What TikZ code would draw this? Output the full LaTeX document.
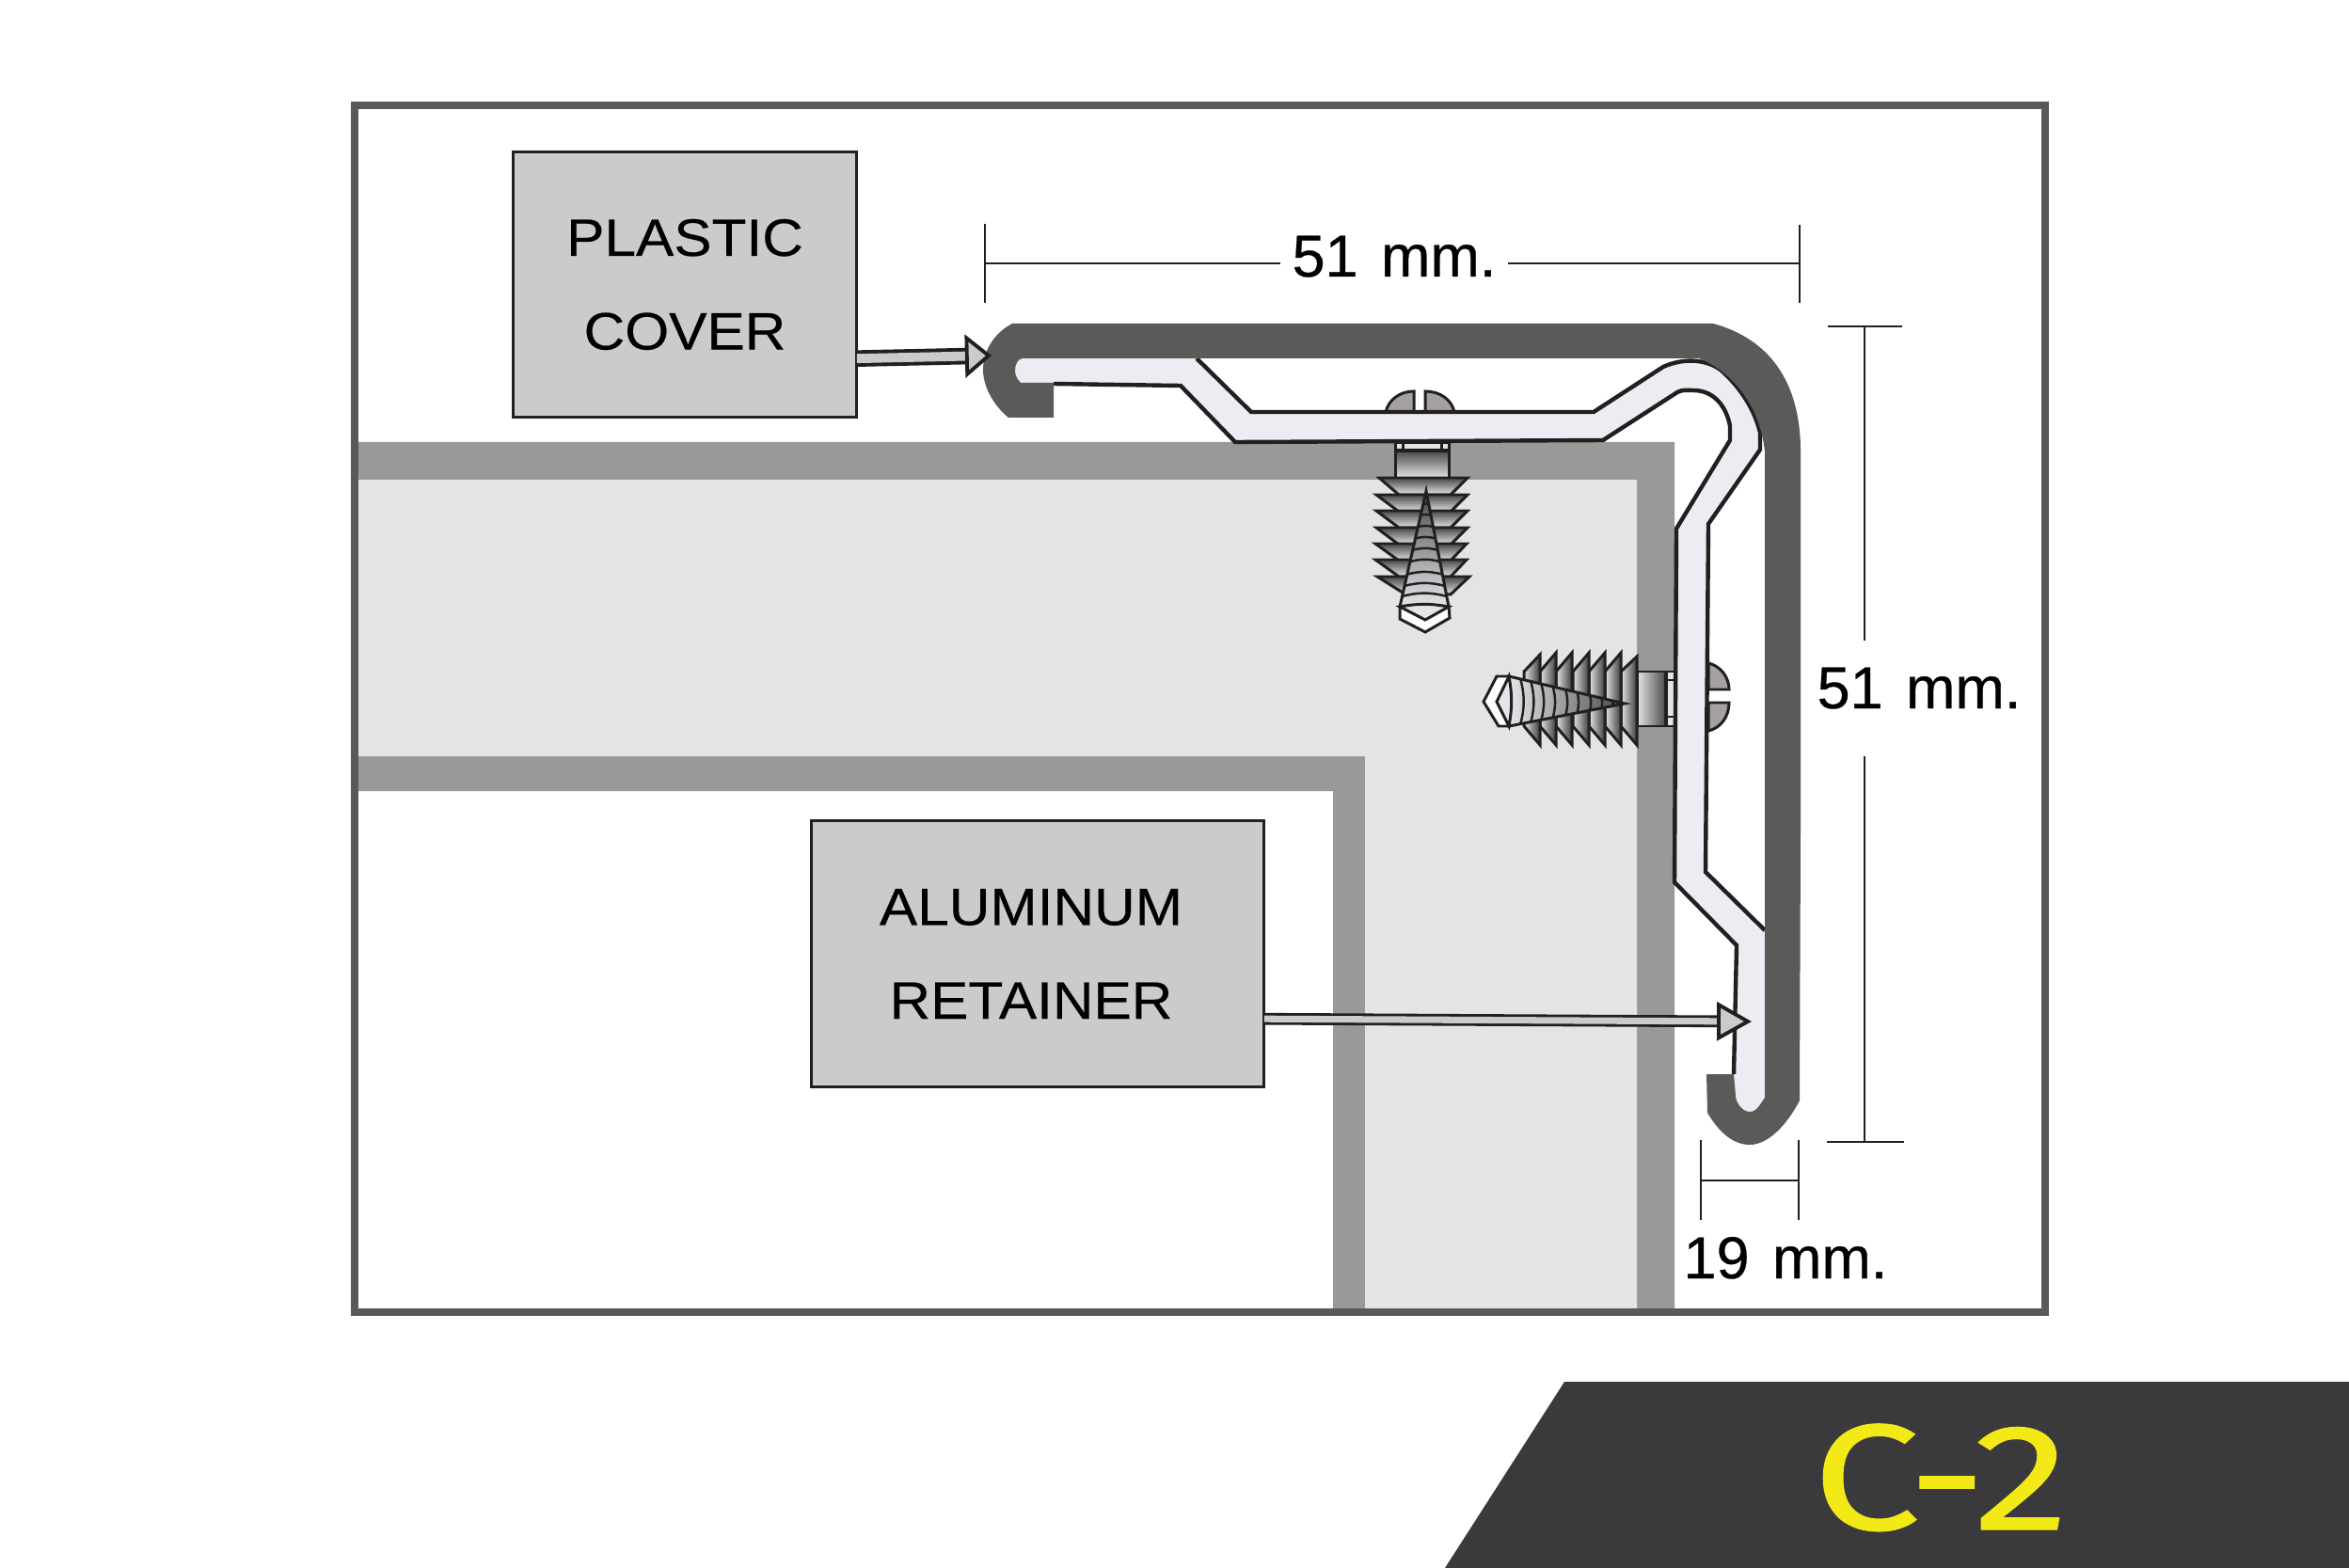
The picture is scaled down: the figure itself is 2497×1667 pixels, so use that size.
\documentclass[tikz,border=0pt]{standalone}
\usepackage{fontspec}
\setmainfont{Liberation Sans}
\newfontfamily\labfont[FakeStretch=1.08,FakeBold=.35]{Liberation Sans}
\newfontfamily\dimfont[FakeBold=.45,WordSpace=1.4]{Liberation Sans}
\newfontfamily\badgefont[FakeBold=.8,FakeStretch=1.27]{Fira Sans}
\usetikzlibrary{arrows.meta,calc}
\definecolor{ink}{HTML}{231F20}
\definecolor{framegray}{HTML}{58595B}
\definecolor{covergray}{HTML}{5A5A58}
\definecolor{bandgray}{HTML}{999999}
\definecolor{walllight}{HTML}{E4E4E4}
\definecolor{railfill}{HTML}{ECECF2}
\definecolor{boxfill}{HTML}{CCCBCB}
\definecolor{headfill}{HTML}{A5A1A2}
\definecolor{badgefill}{HTML}{3A3A3C}
\definecolor{badgetext}{HTML}{F2E916}
\definecolor{threaddark}{HTML}{48484A}
\definecolor{threadlight}{HTML}{E6E6EA}
\tikzset{
  railline/.style={draw=ink,line width=1.25pt,line join=miter},
  screwline/.style={draw=ink,line width=.85pt,line join=miter},
  dimline/.style={draw=ink,line width=.6pt},
  labelbox/.style={draw=ink,line width=.9pt,fill=boxfill,inner sep=0pt,outer sep=0pt,align=center,
    font=\labfont\fontsize{15.9}{28.3}\selectfont},
  dimtext/.style={anchor=base,inner ysep=0pt,inner xsep=3.5pt,font=\dimfont\fontsize{17.9}{20}\selectfont,text=black},
  calloutA/.style={draw=ink,line width=1.1pt,double=boxfill,double distance=2.8pt,
    -{Triangle[open,fill=boxfill,color=ink,length=8pt,width=13pt,line width=1.1pt]}},
  calloutB/.style={draw=ink,line width=.8pt,double=boxfill,double distance=2pt,
    -{Triangle[open,fill=boxfill,color=ink,length=10.5pt,width=11.6pt,line width=1.1pt]}}
}
\begin{document}
\begin{tikzpicture}[x=.01cm,y=-.01cm]
\useasboundingbox (0,0) rectangle (2497,1667);
\fill[white] (0,0) rectangle (2497,1667);

% wall band and wall core
\fill[bandgray] (381,470) -- (1780,470) -- (1780,1391) -- (1417,1391) -- (1417,841) -- (381,841) -- cycle;
\fill[walllight] (381,510) -- (1740,510) -- (1740,1391) -- (1451,1391) -- (1451,804) -- (381,804) -- cycle;

% vertical screw: head
\filldraw[screwline,fill=headfill] (1473,438) .. controls (1476,425) and (1488,416) .. (1503,416) -- (1503,438) -- cycle;
\filldraw[screwline,fill=headfill] (1546,438) .. controls (1543,425) and (1531,416) .. (1515,416) -- (1515,438) -- cycle;
% shank
\filldraw[screwline,top color=threaddark,bottom color=threadlight] (1483,479) rectangle (1540,508);
\filldraw[screwline,fill=walllight] (1483,471) rectangle (1491,479);
\filldraw[screwline,fill=walllight] (1491,471) rectangle (1532,479);
\filldraw[screwline,fill=walllight] (1532,471) rectangle (1540,479);
\draw[ink,line width=1.3pt] (1483,479) -- (1540,479);
% teeth
\foreach \yt/\xl/\xr in {508/1466/1560,526/1463/1560,543/1463/1560,561/1463/1560,578/1462/1559,595/1462/1559}{
  \filldraw[screwline,top color=threaddark,bottom color=threadlight]
    (\xl,\yt) -- (\xr,\yt) -- (1542,\yt+18) -- (1487,\yt+18) -- cycle;
}
\filldraw[screwline,top color=threaddark,bottom color=threadlight]
    (1464,613) -- (1562,613) -- (1542,632) -- (1491,630) -- cycle;
% cone
\coordinate (vA) at (1516,522);
\coordinate (vL) at (1488,645);
\coordinate (vR) at (1540,645);
\filldraw[screwline,top color=threaddark,bottom color=threadlight] (vA) -- (vR) -- (vL) -- cycle;
\foreach \t in {.11,.21,.31,.41,.51,.61,.72,.82,.91}{
  \draw[ink,line width=.7pt] ($(vA)!\t!(vL)$) to[bend left=14] ($(vA)!\t!(vR)$);
}
\filldraw[screwline,fill=white] (1488,645) -- (1488,658) -- (1515,672) -- (1541,657) -- (1540,645) -- cycle;
\filldraw[screwline,fill=threadlight] (1488,645) -- (1515,659) -- (1540,645) to[bend right=10] cycle;

% horizontal screw: head
\filldraw[screwline,fill=headfill] (1816,705) .. controls (1829,708) and (1838,720) .. (1838,733) -- (1816,733) -- cycle;
\filldraw[screwline,fill=headfill] (1816,777) .. controls (1829,774) and (1838,762) .. (1838,747) -- (1816,747) -- cycle;
% shank
\filldraw[screwline,left color=threadlight,right color=threaddark] (1740,714) rectangle (1771,772);
\filldraw[screwline,fill=walllight] (1771,714) rectangle (1780,723);
\filldraw[screwline,fill=walllight] (1771,723) rectangle (1780,762);
\filldraw[screwline,fill=walllight] (1771,762) rectangle (1780,772);
\draw[ink,line width=1.3pt] (1771,714) -- (1771,772);
% teeth
\foreach \xr/\yt in {1740/698,1723/694,1706/694,1689/694,1671/694,1654/694,1637/696}{
  \filldraw[screwline,left color=threadlight,right color=threaddark!85!black]
    (\xr,\yt) -- (\xr-17,714) -- (\xr-17,772) -- (\xr,792) -- cycle;
}
% cone
\coordinate (hA) at (1727,748);
\coordinate (hT) at (1604,719);
\coordinate (hB) at (1604,772);
\filldraw[screwline,left color=threadlight,right color=threaddark] (hA) -- (hT) -- (hB) -- cycle;
\foreach \t in {.1,.2,.3,.41,.51,.62,.72,.81,.9}{
  \draw[ink,line width=.7pt] ($(hA)!\t!(hT)$) to[bend left=14] ($(hA)!\t!(hB)$);
}
\filldraw[screwline,fill=white] (1604,719) -- (1591,719) -- (1577,746) -- (1593,772) -- (1604,772) -- cycle;
\filldraw[screwline,fill=threadlight] (1604,719) -- (1591,746) -- (1604,772) to[bend right=10] cycle;

% aluminum retainer
\fill[railfill] (1075,393) -- (1087,378) -- (1272,378) -- (1272,381) -- (1330,438) -- (1694,438) -- (1768,390)
  .. controls (1790,380) and (1815,382) .. (1830,394) .. controls (1850,412) and (1865,435) .. (1871,460)
  -- (1871,478) -- (1816,557) -- (1813,927) -- (1876,989) -- (1880,989) -- (1880,1170) -- (1860,1190)
  -- (1843,1170) -- (1843,1142) -- (1846,1005) -- (1780,938) -- (1782,562) -- (1839,468) -- (1839,453)
  .. controls (1835,432) and (1822,415) .. (1800,415) .. controls (1794,415) and (1788,414) .. (1783,417)
  -- (1704,468) -- (1313,470) -- (1255,410) -- (1120,408) -- (1085,410) -- cycle;
\draw[railline] (1272,381) -- (1330,438) -- (1694,438) -- (1768,390)
  .. controls (1790,380) and (1815,382) .. (1830,394) .. controls (1850,412) and (1865,435) .. (1871,460)
  -- (1871,478) -- (1816,557) -- (1813,927) -- (1876,989);
\draw[railline] (1120,408) -- (1255,410) -- (1313,470) -- (1704,468) -- (1783,417)
  .. controls (1788,414) and (1794,415) .. (1800,415) .. controls (1822,415) and (1835,432) .. (1839,453)
  -- (1839,468) -- (1782,562) -- (1780,938) -- (1846,1005) -- (1843,1142);

% plastic cover
\fill[covergray] (1076,344) -- (1821,344) .. controls (1880,360) and (1914,405) .. (1914,480)
  -- (1914,880) -- (1913,1170) .. controls (1900,1195) and (1880,1217) .. (1860,1217)
  .. controls (1840,1217) and (1825,1200) .. (1815,1183) -- (1814,1142) -- (1843,1142) -- (1845,1165)
  .. controls (1845,1172) and (1852,1182) .. (1860,1182) .. controls (1868,1182) and (1872,1172) .. (1876,1167)
  -- (1876,480) .. controls (1870,425) and (1835,392) .. (1806,381) -- (1087,381)
  .. controls (1082,381) and (1079,388) .. (1079,393) .. controls (1079,398) and (1080,402) .. (1085,407)
  -- (1120,407) -- (1120,444) -- (1072,444) .. controls (1055,430) and (1045,410) .. (1045,393)
  .. controls (1045,375) and (1055,355) .. (1076,344) -- cycle;

% frame
\draw[framegray,line width=2.28pt] (377,112) rectangle (2174,1395);

% label boxes
\node[labelbox,minimum width=104pt,minimum height=80pt] (plastic) at (728,302.5) {PLASTIC\\COVER};
\node[labelbox,minimum width=137pt,minimum height=80.3pt] (alum) at (1103,1014) {\hspace*{-4pt}ALUMINUM\\\hspace*{-4pt}RETAINER};

% callouts
\coordinate (plastictip) at (1054,378);
\coordinate (alumtip) at (1862,1086);
\draw[calloutA] ($(plastic.south east)+(0,-62)$) -- (plastictip);
\draw[calloutB] ($(alum.south east)+(0,-72)$) -- (alumtip);

% top dimension
\node[dimtext] (dimtop) at (1482,294) {51 mm.};
\coordinate (tl) at (1047,280); \coordinate (tr) at (1913,280);
\draw[dimline] (1047,238) -- (1047,322);
\draw[dimline] (1913,239) -- (1913,322);
\draw[dimline] (tl) -- (dimtop.west |- tl);
\draw[dimline] (dimtop.east |- tr) -- (tr);

% right dimension
\node[dimtext] (dimright) at (2040,753) {51 mm.};
\coordinate (rt) at (1982,347); \coordinate (rb) at (1982,1214);
\coordinate (rg1) at (1982,681); \coordinate (rg2) at (1982,804);
\draw[dimline] (1943,347) -- (2022,347);
\draw[dimline] (1942,1214) -- (2024,1214);
\draw[dimline] (rt) -- (rg1);
\draw[dimline] (rg2) -- (rb);

% bottom dimension
\node[dimtext] (dimbot) at (1898,1359) {19 mm.};
\coordinate (bl) at (1808,1255); \coordinate (br) at (1912,1255);
\draw[dimline] (1808,1212) -- (1808,1297);
\draw[dimline] (1912,1212) -- (1912,1297);
\draw[dimline] (bl) -- (br);

% badge
\fill[badgefill] (1663,1469) -- (2497,1469) -- (2497,1667) -- (1536,1667) -- cycle;
\node[anchor=base,inner sep=0pt,text=badgetext,font=\badgefont\fontsize{45.5}{50}\selectfont] (badge) at (2063,1626) {C-2};
\end{tikzpicture}
\end{document}
